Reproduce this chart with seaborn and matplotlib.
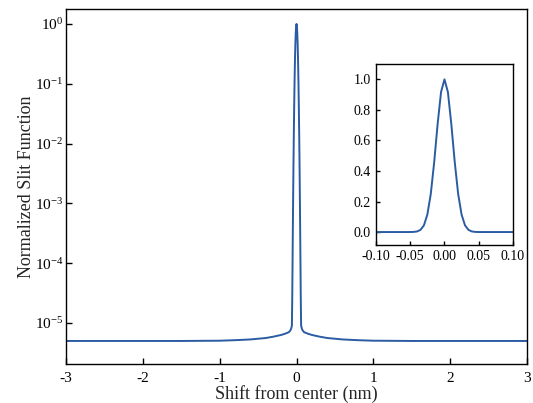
import numpy as np
import pandas as pd
import matplotlib
matplotlib.use("Agg")
import matplotlib.pyplot as plt
import seaborn as sns
from matplotlib.ticker import NullLocator

# Values
shift_nm = [-3.0, -2.0, -1.5, -1.0, -0.8, -0.6, -0.4, -0.3, -0.2, -0.15, -0.1, -0.08, -0.07, -0.06,
            -0.055, -0.05, -0.045, -0.04, -0.035, -0.03, -0.025, -0.02, -0.015,
            -0.01, -0.005, 0.0, 0.005, 0.01, 0.015, 0.02, 0.025, 0.03, 0.035,
            0.04, 0.045, 0.05, 0.055, 0.06, 0.07, 0.08, 0.1, 0.15, 0.2, 0.3, 0.4, 0.6, 0.8, 1.0,
            1.5, 2.0, 3.0]
slit_value = [5.0e-6, 5.0e-6, 5.0e-6, 5.05e-6, 5.15e-6, 5.3e-6, 5.6e-6, 5.9e-6, 6.3e-6, 6.6e-6, 7.0e-6, 7.5e-6, 8.0e-6, 9.0e-6,
              3.0e-5, 1.7e-4, 8.8e-4, 0.00386, 0.0142, 0.044, 0.114, 0.249, 0.458,
              0.707, 0.917, 1.0, 0.917, 0.707, 0.458, 0.249, 0.114, 0.044, 0.0142,
              0.00386, 8.8e-4, 1.7e-4, 3.0e-5, 9.0e-6, 8.0e-6, 7.5e-6, 7.0e-6, 6.6e-6, 6.3e-6, 5.9e-6, 5.6e-6, 5.3e-6, 5.15e-6, 5.05e-6,
              5.0e-6, 5.0e-6, 5.0e-6]
main_xticks = [-3, -2, -1, 0, 1, 2, 3]
main_yticks = [1e-5, 1e-4, 1e-3, 1e-2, 1e-1, 1e0]
inset_xticks = [-0.10, -0.05, 0.00, 0.05, 0.10]
inset_yticks = [0.0, 0.2, 0.4, 0.6, 0.8, 1.0]

df = pd.DataFrame({"shift": shift_nm, "value": slit_value})

sns.set_theme(style="ticks")
plt.rcParams["font.family"] = ["Liberation Serif", "DejaVu Serif"]
plt.rcParams["mathtext.fontset"] = "custom"
plt.rcParams["mathtext.rm"] = "Liberation Serif"
plt.rcParams["mathtext.it"] = "Liberation Serif:italic"
plt.rcParams["xtick.direction"] = "in"
plt.rcParams["ytick.direction"] = "in"

line_color = "#2b5ba3"

fig = plt.figure(figsize=(5.33, 4.03), dpi=100)
ax = fig.add_axes([0.1238, 0.0968, 0.865, 0.881])
sns.lineplot(data=df, x="shift", y="value", ax=ax, color=line_color, linewidth=1.4,
             sort=False, estimator=None)
ax.set_yscale("log")
ax.set_xlim(-3, 3)
ax.set_ylim(2.06e-6, 1.78)
ax.set_xticks(main_xticks)
ax.set_xticklabels([str(t) for t in main_xticks])
ax.set_yticks(main_yticks)
ax.yaxis.set_minor_locator(NullLocator())
ax.set_xlabel("Shift from center (nm)", fontsize=13, labelpad=0)
ax.set_ylabel("Normalized Slit Function", fontsize=13, labelpad=0)
ax.tick_params(axis="both", labelsize=11, length=4, width=1, colors="black",
               top=False, right=False)
ax.tick_params(axis="x", pad=6)
ax.tick_params(axis="y", pad=2)
for s in ax.spines.values():
    s.set_linewidth(1.0)
    s.set_color("black")

ins = fig.add_axes([0.7054, 0.392, 0.257, 0.449])
sns.lineplot(data=df, x="shift", y="value", ax=ins, color=line_color, linewidth=1.4,
             sort=False, estimator=None)
ins.set_xlim(-0.1, 0.1)
ins.set_ylim(-0.085, 1.1)
ins.set_xticks(inset_xticks)
ins.set_xticklabels([f"{t:.2f}" for t in inset_xticks])
ins.set_yticks(inset_yticks)
ins.set_yticklabels([f"{t:.1f}" for t in inset_yticks])
ins.set_xlabel("")
ins.set_ylabel("")
ins.tick_params(axis="both", labelsize=10, length=3, width=1, colors="black",
                top=False, right=False)
for s in ins.spines.values():
    s.set_linewidth(1.0)
    s.set_color("black")

fig.savefig("out.png", dpi=100)
